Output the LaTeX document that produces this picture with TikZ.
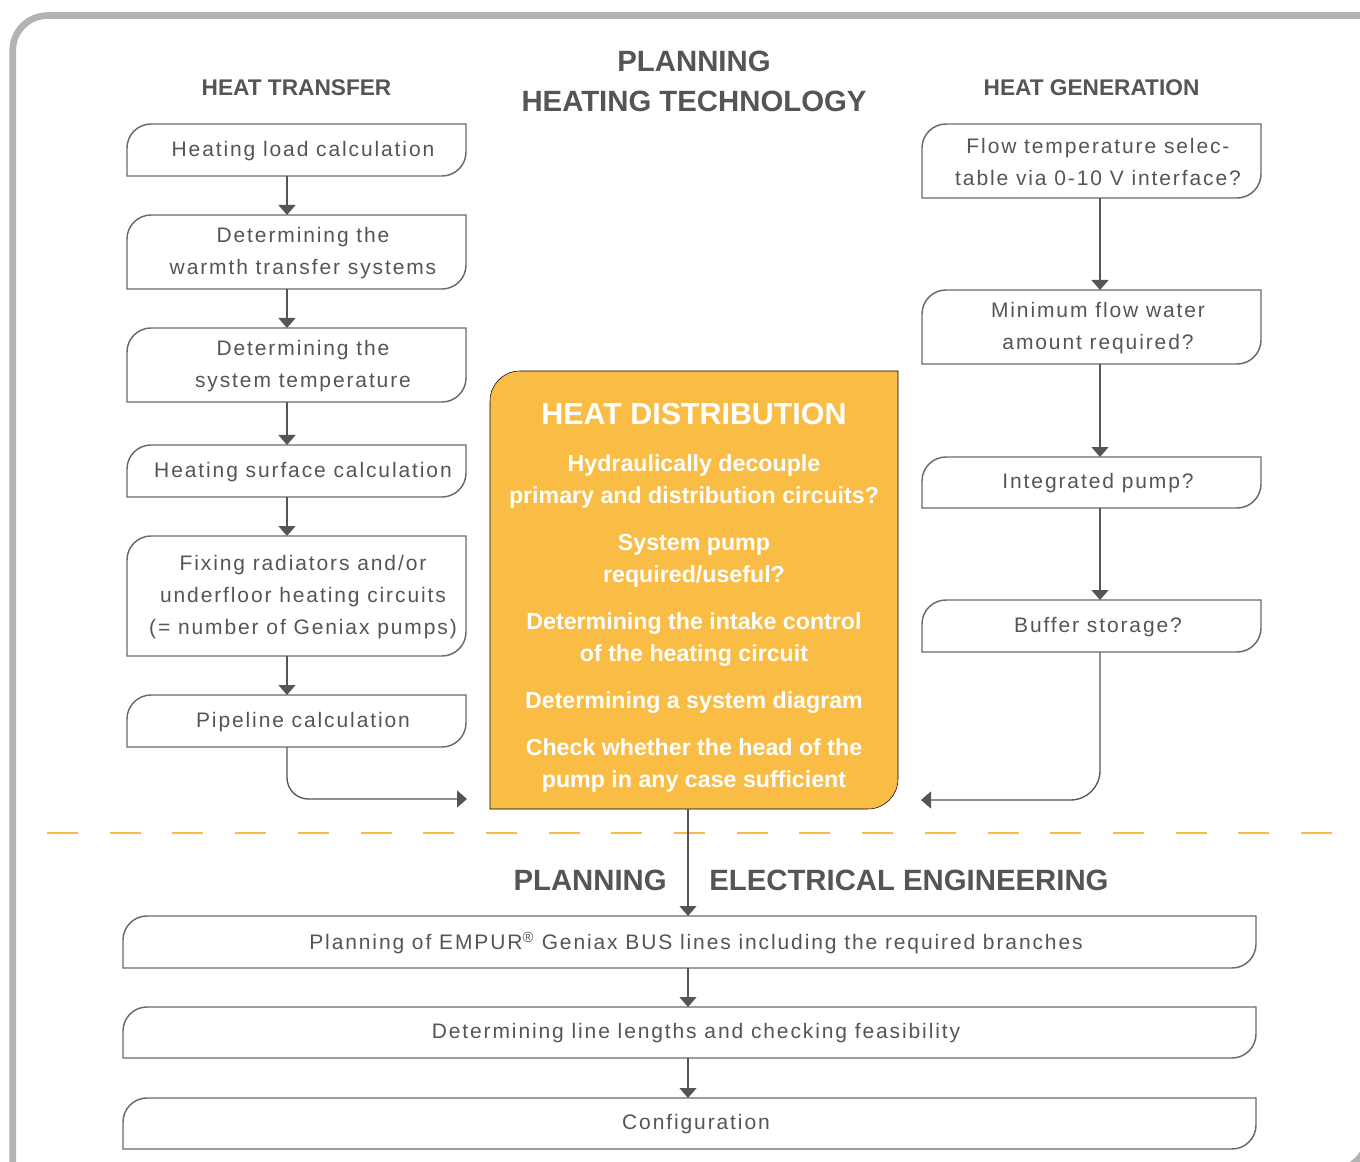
\documentclass[tikz,border=0pt]{standalone}
\usepackage{fontspec}
\setmainfont{Liberation Sans}
\newfontfamily\bodyfont{Liberation Sans}[LetterSpace=9]
\usetikzlibrary{arrows.meta}
\definecolor{txtgray}{HTML}{555555}
\definecolor{linegray}{HTML}{6A6A6A}
\definecolor{arrowgray}{HTML}{555555}
\definecolor{framegray}{HTML}{B3B3B3}
\definecolor{hdorange}{HTML}{F9BC45}
\newcommand\leafshape[3]{%
  \draw[#3] (#1.south west) -- ([yshift=-#2]#1.north west)
    arc[start angle=180, end angle=90, radius=#2] -- (#1.north east)
    -- ([yshift=#2]#1.south east)
    arc[start angle=0, end angle=-90, radius=#2] -- cycle;}
\tikzset{
  wh/.style 2 args={minimum width=#1*0.75pt, minimum height=#2*0.75pt},
  boxnode/.style={inner sep=0pt, outer sep=0pt, rectangle},
  txt/.style={font=\bodyfont\fontsize{15.75}{24}\selectfont, text=txtgray, align=center, xshift=4.875pt, yshift=-0.6pt, inner sep=0pt},
  boxline/.style={draw=linegray, line width=1.1pt},
  conn/.style={draw=arrowgray, line width=1pt, -{Triangle[width=12.75pt, length=7.5pt]}},
  hdr/.style={font=\bfseries\fontsize{17}{20}\selectfont, text=txtgray, inner sep=0pt},
  big/.style={font=\bfseries\fontsize{22}{30}\selectfont, text=txtgray, align=center, inner sep=0pt},
  otxt/.style={font=\bfseries\fontsize{17.4}{24}\selectfont, text=white, align=center, inner sep=0pt}
}
\begin{document}
\begin{tikzpicture}[x=0.75pt, y=-0.75pt]
\useasboundingbox (0,0) rectangle (1360,1162);
\clip (0,0) rectangle (1360,1162);
\fill[white] (0,0) rectangle (1360,1162);
% frame (rounded top-left and bottom-right, like the boxes)
\draw[framegray, line width=5pt] (12.7,1170) -- (12.7,50.5)
  arc[start angle=180, end angle=90, radius=26.25pt] -- (1368,15.5)
  -- (1368,1135) arc[start angle=0, end angle=-90, radius=26.25pt] -- cycle;

% headers
\node[big] (pht) at (694,81) {PLANNING\\HEATING TECHNOLOGY};
\node[hdr] (htr) at (296.5,88) {HEAT TRANSFER};
\node[hdr] (hgen) at (1091.5,88) {HEAT GENERATION};

% left column
\node[boxnode, wh={339}{52}, label={[txt]center:Heating load calculation}] (h1) at (296.5,150) {};
\node[boxnode, wh={339}{74}, label={[txt]center:Determining the\\warmth transfer systems}] (h2) at (296.5,252) {};
\node[boxnode, wh={339}{74}, label={[txt]center:Determining the\\system temperature}] (h3) at (296.5,365) {};
\node[boxnode, wh={339}{52}, label={[txt]center:Heating surface calculation}] (h4) at (296.5,471) {};
\node[boxnode, wh={339}{120}, label={[txt]center:Fixing radiators and/or\\underfloor heating circuits\\(= number of Geniax pumps)}] (h5) at (296.5,596) {};
\node[boxnode, wh={339}{52}, label={[txt]center:Pipeline calculation}] (h6) at (296.5,721) {};

% right column
\node[boxnode, wh={339}{74}, label={[txt]center:Flow temperature selec-\\table via 0-10 V interface?}] (g1) at (1091.5,161) {};
\node[boxnode, wh={339}{74}, label={[txt]center:Minimum flow water\\amount required?}] (g2) at (1091.5,327) {};
\node[boxnode, wh={339}{51}, label={[txt]center:Integrated pump?}] (g3) at (1091.5,482.5) {};
\node[boxnode, wh={339}{52}, label={[txt]center:Buffer storage?}] (g4) at (1091.5,626) {};

% bottom
\node[boxnode, wh={1133}{52}, label={[txt]center:Planning of EMPUR\textsuperscript{®} Geniax BUS lines including the required branches}] (e1) at (689.5,942) {};
\node[boxnode, wh={1133}{51}, label={[txt]center:Determining line lengths and checking feasibility}] (e2) at (689.5,1032.5) {};
\node[boxnode, wh={1133}{51}, label={[txt]center:Configuration}] (e3) at (689.5,1123.5) {};

\foreach \n in {h1,h2,h3,h4,h5,h6,g1,g2,g3,g4,e1,e2,e3} {\leafshape{\n}{18pt}{boxline}}

% heat distribution
\node[boxnode, wh={408}{438}] (hd) at (694,590) {};
\leafshape{hd}{22.5pt}{fill=hdorange}
\node[otxt, anchor=north] (hdt) at (694,403) {{\fontsize{22.8}{24}\selectfont HEAT DISTRIBUTION}\\[11.25pt]
Hydraulically decouple\\primary and distribution circuits?\\[11.25pt]
System pump\\required/useful?\\[11.25pt]
Determining the intake control\\of the heating circuit\\[11.25pt]
Determining a system diagram\\[11.25pt]
Check whether the head of the\\pump in any case sufficient};

% dashed separator
\coordinate (dl) at (47,833);
\coordinate (dr) at (1333,833);
\draw[hdorange, line width=2.2pt, dash pattern=on 23.25pt off 23.78pt] (dl) -- (dr);

% bottom headers
\node[big, anchor=east] (pl) at (667,880) {PLANNING};
\node[big, anchor=west] (ee) at (709,880) {ELECTRICAL ENGINEERING};

% connectors
\foreach \a/\b in {h1/h2,h2/h3,h3/h4,h4/h5,h5/h6}
  {\draw[conn] ([xshift=-7.125pt]\a.south) -- ([xshift=-7.125pt]\b.north);}
\foreach \a/\b in {g1/g2,g2/g3,g3/g4}
  {\draw[conn] ([xshift=6.375pt]\a.south) -- ([xshift=6.375pt]\b.north);}
\foreach \a/\b in {e1/e2,e2/e3}
  {\draw[conn] ([xshift=-1.125pt]\a.south) -- ([xshift=-1.125pt]\b.north);}
\coordinate (inL) at (467,799);
\coordinate (inR) at (921,800);
\draw[conn, rounded corners=16pt] ([xshift=-7.125pt]h6.south) |- (inL);
\draw[conn, rounded corners=22pt] ([xshift=6.375pt]g4.south) |- (inR);
\draw[conn] ([xshift=-4.5pt]hd.south) -- ([xshift=-4.5pt]hd.south |- e1.north);
\end{tikzpicture}
\end{document}
